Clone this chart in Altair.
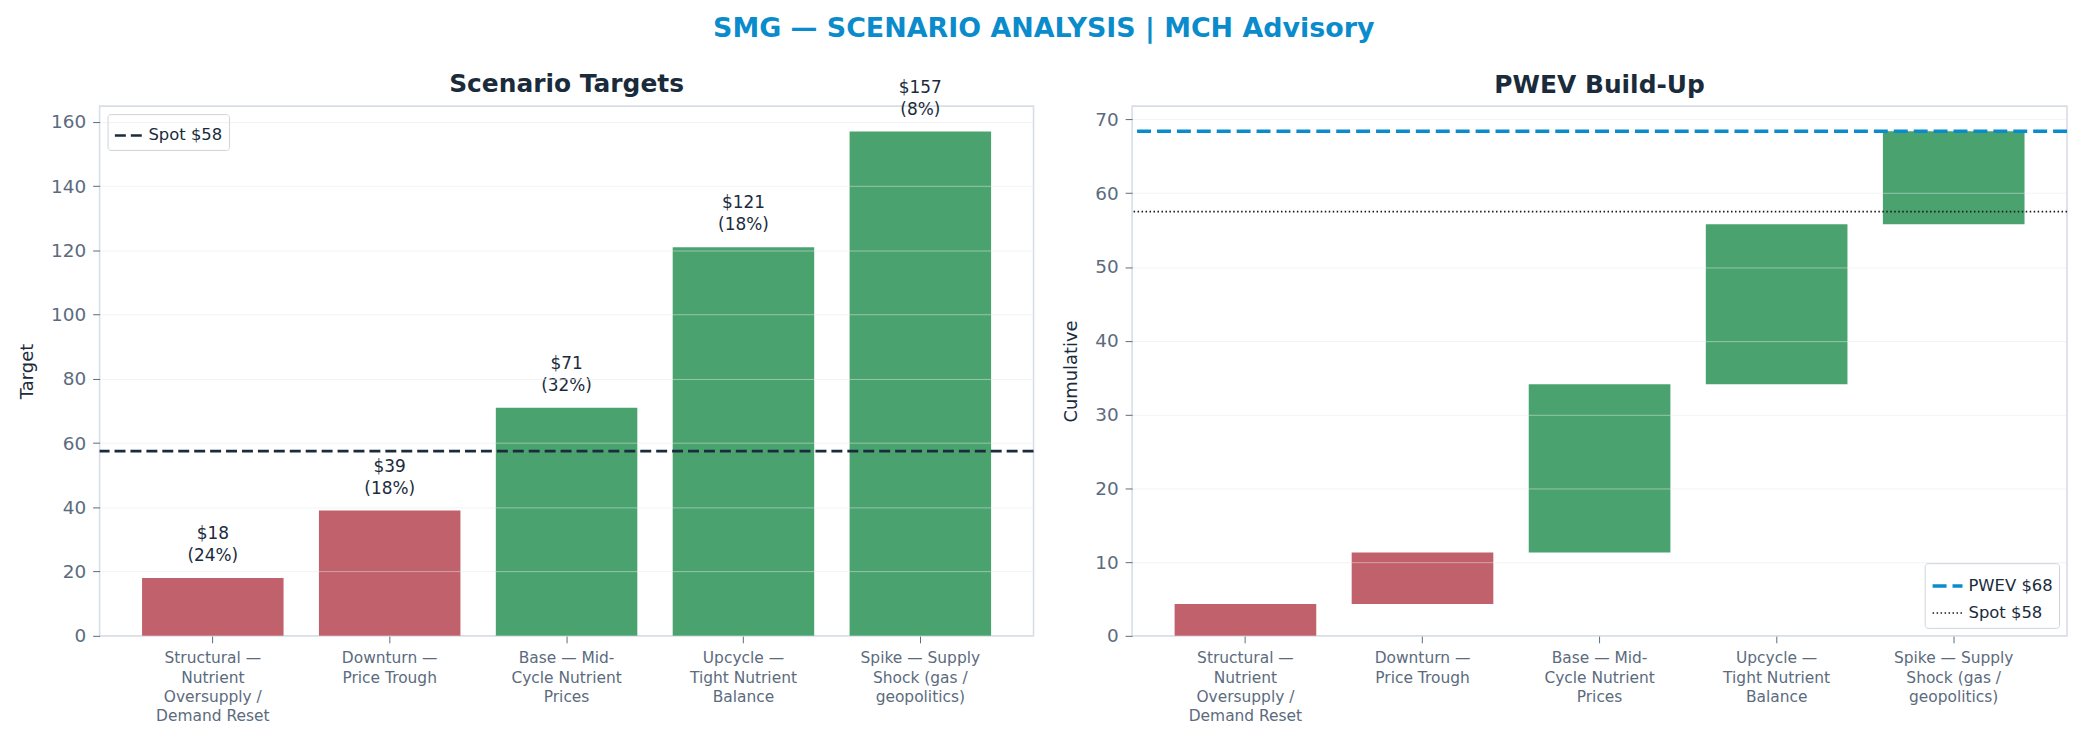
import altair as alt
import pandas as pd

# ---- data ----
categories = [
    "Structural —\nNutrient\nOversupply /\nDemand Reset",
    "Downturn —\nPrice Trough",
    "Base — Mid-\nCycle Nutrient\nPrices",
    "Upcycle —\nTight Nutrient\nBalance",
    "Spike — Supply\nShock (gas /\ngeopolitics)",
]
targets = [18, 39, 71, 121, 157]
probs = [24, 18, 32, 18, 8]
sides = ["down", "down", "up", "up", "up"]
wf_start = [0, 4.3, 11.3, 34.1, 55.8]
wf_end = [4.3, 11.3, 34.1, 55.8, 68.4]
spot = 57.5
pwev = 68.4
spot_label = "Spot $58"
pwev_label = "PWEV $68"

RED = "#c0616b"
GREEN = "#4aa36f"
NAVY = "#1a2b3c"
SLATE = "#5b6b7e"
BLUE = "#0a8ccc"
FONT = "DejaVu Sans"

df = pd.DataFrame({
    "cat": categories,
    "target": targets,
    "side": sides,
    "label": [f"${t}\n({p}%)" for t, p in zip(targets, probs)],
    "start": wf_start,
    "end": wf_end,
})

x_enc = alt.X(
    "cat:N", sort=None, title=None,
    scale=alt.Scale(paddingInner=0.2, paddingOuter=0.24),
    axis=alt.Axis(labelAngle=0, labelExpr="split(datum.label, '\\n')",
                  labelFontSize=15.5, labelColor=SLATE, labelLineHeight=19.5,
                  tickSize=7, tickColor=SLATE, labelPadding=8, domain=False,
                  labelBaseline="top"),
)
color_enc = alt.Color("side:N", scale=alt.Scale(domain=["down", "up"], range=[RED, GREEN]), legend=None)

def yaxis(title, values):
    return alt.Axis(title=title, values=values, grid=True, gridColor="#e2e6ea", gridOpacity=0.5,
                    zindex=1, domain=False, tickSize=7, tickColor=SLATE, labelColor=SLATE,
                    labelFontSize=18.5, labelPadding=7, titleFontSize=18, titleColor=NAVY,
                    titleFontWeight="normal", titlePadding=14)

W1, W2, H = 938, 939, 532

# ---- left: scenario targets ----
bars = alt.Chart(df).mark_bar().encode(
    x=x_enc,
    y=alt.Y("target:Q", scale=alt.Scale(domain=[0, 164.9], nice=False),
            axis=yaxis("Target", list(range(0, 161, 20)))),
    color=color_enc,
)
labels = alt.Chart(df).mark_text(baseline="bottom", dy=-35, fontSize=17, color=NAVY,
                                 lineBreak="\n", lineHeight=22, font=FONT).encode(
    x=alt.X("cat:N", sort=None), y="target:Q", text="label:N")
spot_df = pd.DataFrame({"v": [spot], "line": [spot_label]})
spot_rule = alt.Chart(spot_df).mark_rule(color=NAVY, strokeWidth=2.6).encode(
    y="v:Q",
    strokeDash=alt.StrokeDash("line:N", scale=alt.Scale(domain=[spot_label], range=[[11, 5]]),
                              legend=alt.Legend(title=None, orient="top-left", symbolType="stroke",
                                                symbolSize=800, symbolStrokeColor=NAVY,
                                                symbolStrokeWidth=2.6)),
)
left = alt.layer(bars, labels, spot_rule).properties(
    width=W1, height=H,
    title=alt.TitleParams("Scenario Targets", fontSize=25, fontWeight="bold", color=NAVY,
                          offset=8, dy=26),
)

# ---- right: PWEV build-up ----
wf = alt.Chart(df).mark_bar().encode(
    x=x_enc,
    y=alt.Y("start:Q", scale=alt.Scale(domain=[0, 71.8], nice=False),
            axis=yaxis("Cumulative", list(range(0, 71, 10)))),
    y2="end:Q",
    color=color_enc,
)
lines_df = pd.DataFrame({"v": [pwev, spot], "line": [pwev_label, spot_label]})
leg = alt.Legend(title=None, orient="bottom-right", symbolType="stroke", symbolSize=900)
lines = alt.Chart(lines_df).mark_rule().encode(
    y="v:Q",
    stroke=alt.Stroke("line:N", scale=alt.Scale(domain=[pwev_label, spot_label], range=[BLUE, "#1a1a1a"]),
                      legend=leg),
    strokeDash=alt.StrokeDash("line:N", scale=alt.Scale(domain=[pwev_label, spot_label],
                                                        range=[[14, 6], [1.5, 2.5]]), legend=leg),
    strokeWidth=alt.StrokeWidth("line:N", scale=alt.Scale(domain=[pwev_label, spot_label], range=[3.6, 1.6]),
                                legend=leg),
)
right = alt.layer(wf, lines).properties(
    width=W2, height=H,
    title=alt.TitleParams("PWEV Build-Up", fontSize=25, fontWeight="bold", color=NAVY, offset=8),
)

chart = alt.hconcat(left, right, spacing=25).resolve_scale(
    x="independent", y="independent", strokeDash="independent", stroke="independent",
    strokeWidth="independent", color="shared",
).resolve_legend(strokeDash="independent", stroke="independent", strokeWidth="independent").properties(
    title=alt.TitleParams("SMG — SCENARIO ANALYSIS | MCH Advisory", fontSize=27, fontWeight="bold",
                          color=BLUE, anchor="middle", offset=28),
    padding={"left": 9, "top": 5, "right": 5, "bottom": 5},
).configure(font=FONT).configure_view(
    stroke="#d8dee6", strokeWidth=1.6,
).configure_legend(
    labelFontSize=16.5, labelColor=NAVY, strokeColor="#cfd4da", fillColor="white", cornerRadius=3,
    padding=6, offset=8, labelFont=FONT,
).configure_title(font=FONT)

chart.save("out.html", embed_options={"renderer": "svg", "actions": False})
